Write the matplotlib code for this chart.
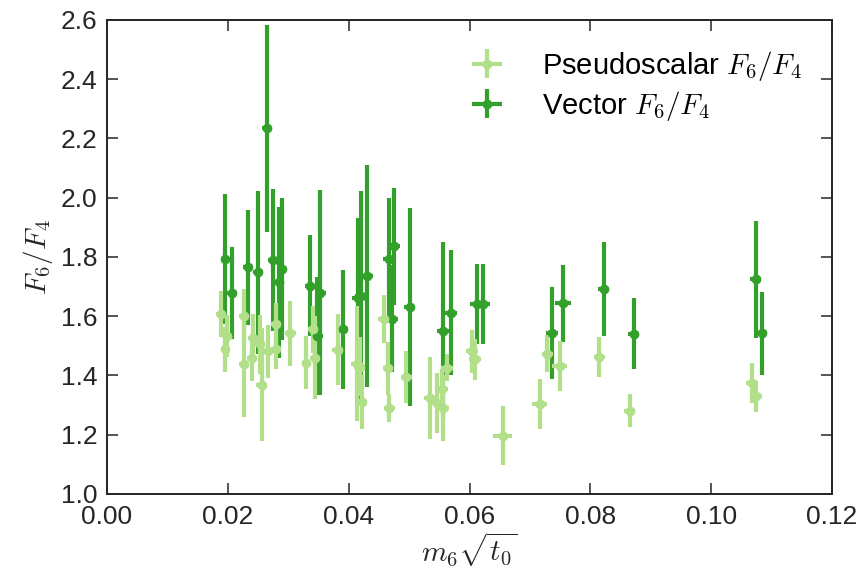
import numpy as np
import matplotlib
matplotlib.use("Agg")
import matplotlib.pyplot as plt

plt.rcParams['font.family'] = ['Liberation Sans', 'DejaVu Sans']
plt.rcParams['mathtext.fontset'] = 'cm'

# pseudoscalar F6/F4
ps_x = [0.0188, 0.0195, 0.0198, 0.0227, 0.0226, 0.0242, 0.0240, 0.0253, 0.0256, 0.0267,
        0.0280, 0.0280, 0.0303, 0.0330, 0.0341, 0.0344, 0.0382, 0.0413, 0.0418, 0.0422,
        0.0458, 0.0465, 0.0467, 0.0495, 0.0535, 0.0547, 0.0556, 0.0554, 0.0562, 0.0604,
        0.0609, 0.0655, 0.0716, 0.0729, 0.0749, 0.0815, 0.0865, 0.1067, 0.1075]
ps_y = [1.607, 1.488, 1.533, 1.601, 1.440, 1.528, 1.460, 1.505, 1.369, 1.482,
        1.573, 1.488, 1.542, 1.443, 1.556, 1.460, 1.487, 1.440, 1.430, 1.310,
        1.590, 1.424, 1.290, 1.396, 1.324, 1.307, 1.290, 1.353, 1.426, 1.482,
        1.454, 1.197, 1.304, 1.473, 1.432, 1.462, 1.281, 1.375, 1.330]
ps_yerr = [0.077, 0.075, 0.070, 0.090, 0.180, 0.080, 0.080, 0.100, 0.190, 0.090,
           0.070, 0.065, 0.110, 0.090, 0.080, 0.140, 0.120, 0.195, 0.100, 0.090,
           0.080, 0.090, 0.048, 0.088, 0.140, 0.100, 0.110, 0.070, 0.045, 0.073,
           0.070, 0.100, 0.085, 0.062, 0.085, 0.068, 0.056, 0.067, 0.053]
ps_xerr = [0.0008, 0.0007, 0.0007, 0.0008, 0.0008, 0.0008, 0.0008, 0.0008, 0.0009, 0.0008,
           0.0008, 0.0008, 0.0009, 0.0008, 0.0008, 0.0008, 0.0009, 0.0009, 0.0009, 0.0009,
           0.0009, 0.0009, 0.0009, 0.0009, 0.0010, 0.0010, 0.0010, 0.0010, 0.0010, 0.0010,
           0.0010, 0.0016, 0.0012, 0.0009, 0.0012, 0.0009, 0.0009, 0.0009, 0.0009]

# vector F6/F4
v_x = [0.0195, 0.0207, 0.0233, 0.0250, 0.0264, 0.0274, 0.0285, 0.0289, 0.0336, 0.0348,
       0.0353, 0.0390, 0.0415, 0.0421, 0.0430, 0.0466, 0.0475, 0.0471, 0.0501, 0.0556,
       0.0569, 0.0612, 0.0622, 0.0737, 0.0755, 0.0822, 0.0872, 0.1074, 0.1084]
v_y = [1.793, 1.678, 1.765, 1.748, 2.234, 1.791, 1.714, 1.759, 1.703, 1.533,
       1.680, 1.556, 1.660, 1.669, 1.737, 1.793, 1.836, 1.592, 1.631, 1.550,
       1.612, 1.641, 1.641, 1.543, 1.644, 1.692, 1.541, 1.725, 1.542]
v_yerr = [0.220, 0.155, 0.195, 0.275, 0.350, 0.240, 0.255, 0.240, 0.170, 0.200,
          0.345, 0.200, 0.270, 0.355, 0.375, 0.205, 0.197, 0.180, 0.335, 0.300,
          0.210, 0.135, 0.135, 0.155, 0.130, 0.160, 0.120, 0.197, 0.140]
v_xerr = [0.0007, 0.0008, 0.0008, 0.0008, 0.0008, 0.0008, 0.0008, 0.0008, 0.0008, 0.0009,
          0.0009, 0.0009, 0.0009, 0.0010, 0.0010, 0.0010, 0.0010, 0.0010, 0.0009, 0.0010,
          0.0010, 0.0012, 0.0012, 0.0010, 0.0013, 0.0009, 0.0009, 0.0009, 0.0009]

light = '#b2df8a'
dark = '#33a02c'

fig = plt.figure(figsize=(8.66, 5.86), dpi=100)
ax = fig.add_axes([0.1236, 0.157, 0.8371, 0.809])

style = dict(fmt='o', markersize=7, elinewidth=3.0, capsize=3.2, capthick=1.6,
             markeredgewidth=0)
h_v = ax.errorbar(v_x, v_y, yerr=v_yerr, xerr=v_xerr, color=dark,
                  label=r'Vector $F_6/F_4$', **style)
h_ps = ax.errorbar(ps_x, ps_y, yerr=ps_yerr, xerr=ps_xerr, color=light,
                   label=r'Pseudoscalar $F_6/F_4$', **style)

ax.set_xlim(0, 0.12)
ax.set_ylim(1.0, 2.6)
ax.set_xticks(np.arange(0, 0.121, 0.02))
ax.set_yticks(np.arange(1.0, 2.61, 0.2))
ax.xaxis.set_major_formatter(matplotlib.ticker.FormatStrFormatter('%.2f'))
ax.yaxis.set_major_formatter(matplotlib.ticker.FormatStrFormatter('%.1f'))

ax.tick_params(direction='in', top=True, right=True, length=8, width=1.1,
               color='#262626', labelcolor='#262626', labelsize=19)
ax.tick_params(axis='x', pad=8)
ax.tick_params(axis='y', pad=7)
for s in ax.spines.values():
    s.set_linewidth(1.4)
    s.set_color('#262626')

ax.set_xlabel(r'$m_6\sqrt{t_0}$', fontsize=21, color='#262626', labelpad=1)
ax.set_ylabel(r'$F_6/F_4$', fontsize=21, color='#262626', labelpad=4)

ax.legend([h_ps, h_v], [r'Pseudoscalar $F_6/F_4$', r'Vector $F_6/F_4$'],
          loc='upper right', frameon=False, fontsize=21, handletextpad=1.1,
          handlelength=1.6, borderaxespad=0.6, labelspacing=0.2)

fig.savefig('out.png', dpi=100)
